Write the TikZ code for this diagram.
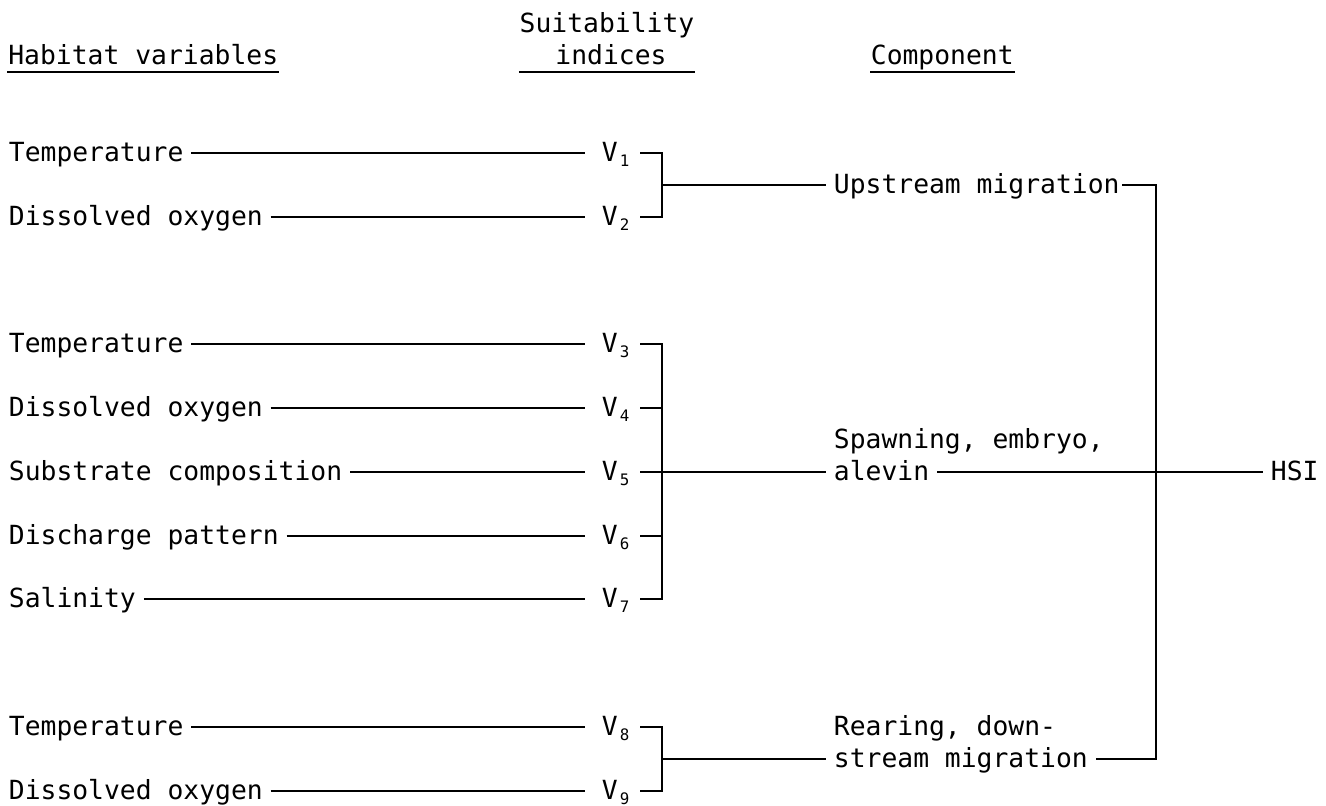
\documentclass[tikz,border=0pt]{standalone}
\usepackage{fontspec}
\setmonofont{DejaVu Sans Mono}
\usetikzlibrary{positioning, calc}
\newcommand{\vsub}[1]{\kern1.2pt\raisebox{-2.8pt}{\fontsize{9}{9}\selectfont #1}}

\begin{document}
\begin{tikzpicture}[font=\ttfamily\fontsize{15}{18}\selectfont, line width=1pt,
    var/.style={inner xsep=4pt, inner ysep=0pt, text height=12pt, text depth=2pt},
    head/.style={inner sep=0pt, text depth=3.6pt}]
    \useasboundingbox (0,0) rectangle (26.52,16.12);

    % Column headers
    \node[head, anchor=base west] (hab) at (0.15,14.82) {Habitat variables};
    \node[head, anchor=base] (suit) at (12.14,15.46) {Suitability};
    \node[head, anchor=base] (ind) at (12.22,14.82) {indices};
    \node[head, anchor=base west] (compo) at (17.40,14.82) {Component};
    \draw[line width=0.8pt] (hab.south west) -- (hab.south east);
    \draw[line width=0.8pt] (suit.west |- ind.south) -- (suit.east |- ind.south);
    \draw[line width=0.8pt] (compo.south west) -- (compo.south east);

    % Habitat variables and suitability indices
    \foreach \i/\y/\txt in {1/13.06/Temperature, 2/11.78/Dissolved oxygen,
            3/9.24/Temperature, 4/7.96/Dissolved oxygen, 5/6.68/Substrate composition,
            6/5.40/Discharge pattern, 7/4.14/Salinity,
            8/1.58/Temperature, 9/0.30/Dissolved oxygen} {
        \node[var, anchor=west] (t\i) at (0.02,\y) {\txt};
        \node[var, anchor=west, inner xsep=0pt] (v\i) at (12.02,\y) {V\vsub{\i}};
        \draw (t\i.east) -- ([xshift=-0.32cm]v\i.west);
    }

    % Components
    \node[var, anchor=west] (upmig) at (16.52,12.42) {Upstream migration};
    \node[var, anchor=west] (spawn) at (16.52,6.68) {alevin};
    \node[var, anchor=west] (spawn1) at ([yshift=0.64cm]spawn.west) {Spawning, embryo,};
    \node[var, anchor=west] (rear) at (16.52,0.94) {stream migration};
    \node[var, anchor=west] (rear1) at ([yshift=0.64cm]rear.west) {Rearing, down-};
    \node[var, anchor=west] (hsi) at (25.26,6.68) {HSI};

    % Brackets
    \coordinate (b1) at (13.24,12.42);
    \coordinate (b2) at (13.24,6.68);
    \coordinate (b3) at (13.24,0.94);
    \coordinate (join) at (23.12,6.68);

    \draw ([xshift=0.2cm]v1.east) -| (b1) |- ([xshift=0.2cm]v2.east);
    \draw (b1) -- (upmig.west);
    \draw ([xshift=0.2cm]v3.east) -| (b2) |- ([xshift=0.2cm]v7.east);
    \draw ([xshift=0.2cm]v4.east) -- (b2 |- v4.east);
    \draw ([xshift=0.2cm]v6.east) -- (b2 |- v6.east);
    \draw ([xshift=0.2cm]v5.east) -- (spawn.west);
    \draw ([xshift=0.2cm]v8.east) -| (b3) |- ([xshift=0.2cm]v9.east);
    \draw (b3) -- (rear.west);
    \draw ([xshift=-0.1cm]upmig.east) -| (join |- rear.east) -- (rear.east);
    \draw (spawn.east) -- (hsi.west);
\end{tikzpicture}
\end{document}
